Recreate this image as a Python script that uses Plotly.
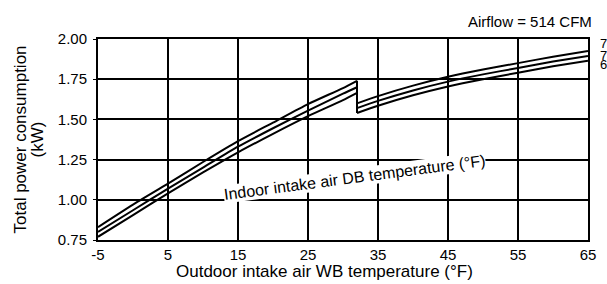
import plotly.graph_objects as go

# Outdoor intake air WB temperature (°F)
x_before = [-5, 0, 5, 10, 15, 20, 25, 30, 32]
x_after = [32, 35, 40, 45, 50, 55, 60, 65]

# Total power consumption (kW) for indoor DB temperature 75, 70, 65 °F
series_names = ["75", "70", "65"]
before_vals = {
    "75": [0.83, 0.97, 1.10, 1.235, 1.365, 1.48, 1.595, 1.695, 1.74],
    "70": [0.80, 0.935, 1.07, 1.20, 1.33, 1.445, 1.555, 1.66, 1.70],
    "65": [0.77, 0.905, 1.04, 1.17, 1.295, 1.41, 1.52, 1.62, 1.665],
}
after_vals = {
    "75": [1.60, 1.645, 1.71, 1.765, 1.81, 1.85, 1.89, 1.925],
    "70": [1.57, 1.615, 1.68, 1.735, 1.78, 1.82, 1.86, 1.895],
    "65": [1.54, 1.585, 1.65, 1.705, 1.75, 1.79, 1.83, 1.865],
}
label_y = {"75": 1.975, "70": 1.90, "65": 1.84}

x_ticks = [-5, 5, 15, 25, 35, 45, 55, 65]
y_ticks = [0.75, 1.00, 1.25, 1.50, 1.75, 2.00]

FONT = "Liberation Sans, Arial, sans-serif"

fig = go.Figure()
for name in series_names:
    b = before_vals[name]
    a = after_vals[name]
    xs = x_before + [None, x_before[-1], x_after[0], None] + x_after
    ys = b + [None, b[-1], a[0], None] + a
    fig.add_trace(go.Scatter(
        x=xs, y=ys, mode="lines", connectgaps=False,
        line=dict(color="black", width=2, shape="spline", smoothing=0.6),
        showlegend=False, hoverinfo="skip",
    ))

for name in series_names:
    fig.add_annotation(x=65, y=label_y[name], xref="x", yref="y", text=name,
                       showarrow=False, xanchor="left", yanchor="middle", xshift=10,
                       font=dict(family=FONT, size=13, color="black"))

fig.add_annotation(x=31.6, y=1.14, xref="x", yref="y",
                   text="Indoor intake air DB temperature (°F)",
                   showarrow=False, textangle=-7.5, bgcolor="white",
                   font=dict(family=FONT, size=16, color="black"), borderpad=0)

fig.add_annotation(x=1.0, y=1.0, xref="paper", yref="paper",
                   text="Airflow = 514 CFM", showarrow=False,
                   xanchor="right", yanchor="bottom", yshift=7, xshift=6,
                   font=dict(family=FONT, size=15, color="black"))

# axis titles
fig.add_annotation(x=0.462, y=0, xref="paper", yref="paper",
                   text="Outdoor intake air WB temperature (°F)", showarrow=False,
                   xanchor="center", yanchor="middle", yshift=-31,
                   font=dict(family=FONT, size=17, color="black"))
fig.add_annotation(x=0, y=0.5, xref="paper", yref="paper",
                   text="Total power consumption", showarrow=False, textangle=-90,
                   xanchor="center", yanchor="middle", xshift=-78,
                   font=dict(family=FONT, size=17, color="black"))
fig.add_annotation(x=0, y=0.5, xref="paper", yref="paper",
                   text="(kW)", showarrow=False, textangle=-90,
                   xanchor="center", yanchor="middle", xshift=-61,
                   font=dict(family=FONT, size=17, color="black"))

fig.update_layout(
    width=607, height=284,
    margin=dict(l=98, r=11, t=39, b=44),
    paper_bgcolor="white", plot_bgcolor="white",
    font=dict(family=FONT, size=15, color="black"),
)
fig.update_xaxes(
    range=[-5, 65], tickvals=x_ticks, ticktext=[str(v) for v in x_ticks],
    showgrid=True, gridcolor="black", gridwidth=1.5,
    showline=True, linecolor="black", linewidth=2, mirror=True,
    ticks="", zeroline=False,
    tickfont=dict(family=FONT, size=15),
)
fig.update_yaxes(
    range=[0.75, 2.00], tickvals=y_ticks, ticktext=[f"{v:.2f}" for v in y_ticks],
    showgrid=True, gridcolor="black", gridwidth=1.5,
    showline=True, linecolor="black", linewidth=2, mirror=True,
    ticks="outside", ticklen=3, tickcolor="black", ticklabelstandoff=3,
    zeroline=False,
    tickfont=dict(family=FONT, size=15),
)

fig.write_html("out.html", config={"displayModeBar": False},
               post_script="document.body.style.margin='0';document.body.style.overflow='hidden';")
